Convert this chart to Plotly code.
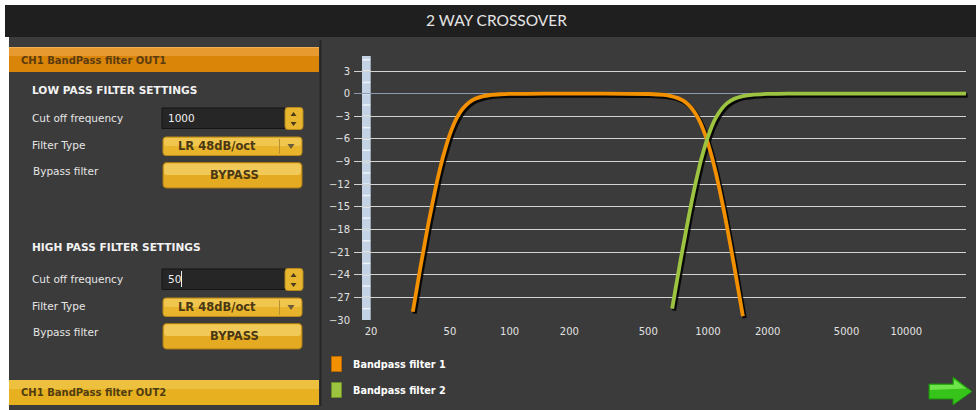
import math
import plotly.graph_objects as go

W, H = 976, 410
FONT = "DejaVu Sans"

# ---------------- data ----------------
freq_tick_values = [20, 50, 100, 200, 500, 1000, 2000, 5000, 10000, 20000]
freq_tick_labels = ["20", "50", "100", "200", "500", "1000", "2000", "5000", "10000", "20000"]
db_tick_values = [3, 0, -3, -6, -9, -12, -15, -18, -21, -24, -27, -30]

bp1_freq = [32.5, 34, 35.5, 37, 38.5, 40, 41.5, 43, 44.5, 46, 48, 50, 52.5, 55, 58, 62, 67, 73, 80, 90,
            100, 150, 300, 500, 600, 650, 700, 750, 800, 850, 900, 950, 1000, 1050, 1100, 1150, 1200,
            1250, 1300, 1350, 1400, 1450, 1500]
bp1_db = [-28.9, -25.9, -23.0, -20.4, -17.9, -15.7, -13.6, -11.7, -10.0, -8.5, -6.8, -5.35, -3.95,
          -2.9, -2.0, -1.23, -0.68, -0.35, -0.17, -0.07, -0.03, 0, 0, -0.04, -0.16, -0.31, -0.55,
          -0.93, -1.51, -2.33, -3.44, -4.86, -6.56, -8.52, -10.68, -12.97, -15.35, -17.76, -20.18,
          -22.58, -24.94, -27.26, -29.5]

bp2_freq = [660, 680, 700, 725, 750, 775, 800, 830, 860, 890, 920, 950, 1000, 1050, 1100, 1175, 1250,
            1350, 1500, 1700, 2000, 2500, 20000]
bp2_db = [-28.5, -26.5, -24.6, -22.3, -20.2, -18.2, -16.3, -14.15, -12.2, -10.5, -8.9, -7.6, -5.7,
          -4.2, -3.1, -1.97, -1.25, -0.7, -0.31, -0.11, -0.03, 0, 0]

series_names = ["Bandpass filter 1", "Bandpass filter 2"]
series_colors = ["#f29000", "#9dc441"]
series_edges = ["#b86a00", "#6f8f28"]

# ---------------- geometry (pixels) ----------------
PL, PR, PT, PB = 354, 966, 56, 320
X20 = 371
dec_px = (PR - X20) / 3.0
x_range = [math.log10(20) - (X20 - PL) / dec_px, math.log10(20000)]
y_range = [-30, 5]


def fx(x):
    return x / W


def fy(y):
    return 1 - y / H


def pt(x, y):
    return f"{fx(x):.5f},{fy(y):.5f}"


shapes = []
annotations = []


def rect(x0, y0, x1, y1, fill, line=None, lw=0, layer="above"):
    shapes.append(dict(type="rect", xref="paper", yref="paper", x0=fx(x0), x1=fx(x1),
                       y0=fy(y1), y1=fy(y0), fillcolor=fill, layer=layer,
                       line=dict(width=lw, color=line or fill)))


def rrect(x0, y0, x1, y1, r, fill, line=None, lw=0):
    p = (f"M {pt(x0 + r, y0)} L {pt(x1 - r, y0)} Q {pt(x1, y0)} {pt(x1, y0 + r)} "
         f"L {pt(x1, y1 - r)} Q {pt(x1, y1)} {pt(x1 - r, y1)} L {pt(x0 + r, y1)} "
         f"Q {pt(x0, y1)} {pt(x0, y1 - r)} L {pt(x0, y0 + r)} Q {pt(x0, y0)} {pt(x0 + r, y0)} Z")
    shapes.append(dict(type="path", xref="paper", yref="paper", path=p, fillcolor=fill,
                       line=dict(width=lw, color=line or fill)))


def poly(points, fill, line=None, lw=0):
    p = "M " + " L ".join(pt(x, y) for x, y in points) + " Z"
    shapes.append(dict(type="path", xref="paper", yref="paper", path=p, fillcolor=fill,
                       line=dict(width=lw, color=line or fill)))


def hline(x0, x1, y, color, w=1):
    shapes.append(dict(type="line", xref="paper", yref="paper", x0=fx(x0), x1=fx(x1),
                       y0=fy(y), y1=fy(y), line=dict(color=color, width=w)))


def vline(x, y0, y1, color, w=1):
    shapes.append(dict(type="line", xref="paper", yref="paper", x0=fx(x), x1=fx(x),
                       y0=fy(y0), y1=fy(y1), line=dict(color=color, width=w)))


def text(x, y, s, size, color, bold=False, anchor="left", family=FONT):
    annotations.append(dict(xref="paper", yref="paper", x=fx(x), y=fy(y), text=(f"<b>{s}</b>" if bold else s),
                            showarrow=False, xanchor=anchor, yanchor="middle",
                            font=dict(family=family, size=size, color=color), borderpad=0))


# ---------------- page chrome ----------------
rect(0, 0, W, 5, "#ffffff")
rect(0, 0, 5, H, "#ffffff")
rect(5, 37, 9, H, "#ffffff")
rect(5, 5, W, 37, "#1f1f1f")
text(496, 20, "2 WAY CROSSOVER", 15.5, "#e4e4e4", anchor="center", family="Lato")
vline(320.5, 40, 406, "#262626", 2)

# header 1 (orange)
rect(9, 47, 319, 72, "#da8408")
rect(9, 47, 319, 56, "#e69a30")
hline(9, 319, 47.5, "#f0b050", 1)
text(20, 60, "CH1 BandPass filter OUT1", 10, "#5a3c10", bold=True)

# header 2 (yellow)
rect(9, 380, 319, 405, "#e6b020")
rect(9, 380, 319, 389, "#edc040")
text(20, 392.5, "CH1 BandPass filter OUT2", 10, "#4e3c12", bold=True)


def settings_block(y_title, title, y_cut, value, y_type, y_byp):
    text(31, y_title, title, 10.6, "#f2f2f2", bold=True)
    text(31, y_cut, "Cut off frequency", 10.5, "#e6e6e6")
    # input box
    rect(162, y_cut - 10, 285, y_cut + 10.5, "#262626", "#151515", 1)
    text(167, y_cut, value, 10.5, "#eeeeee")
    # spinner
    rrect(285, y_cut - 10.5, 303, y_cut + 11.5, 3, "#e8b52e", "#b88a1c", 1)
    poly([(290.5, y_cut - 2), (296.5, y_cut - 2), (293.5, y_cut - 6)], "#4a3a1a")
    poly([(290.5, y_cut + 4), (296.5, y_cut + 4), (293.5, y_cut + 8)], "#4a3a1a")
    # filter type dropdown
    text(31, y_type, "Filter Type", 10.5, "#e6e6e6")
    rrect(163, y_type - 8, 302, y_type + 10.5, 3, "#e8b42c", "#b88a1c", 1)
    rrect(164, y_type - 7, 301, y_type + 1, 2, "#f0c64e")
    vline(279.5, y_type - 6, y_type + 9, "#b8902c", 1)
    poly([(287.5, y_type - 1), (294.5, y_type - 1), (291, y_type + 4)], "#6a5a3a")
    text(217, y_type + 1, "LR 48dB/oct", 11.5, "#4a3814", bold=True, anchor="center")
    # bypass button
    text(32, y_byp, "Bypass filter", 10.5, "#e6e6e6")
    rrect(163, y_byp - 8.5, 302, y_byp + 17, 4, "#e3aa22", "#a87a14", 1)
    rrect(164, y_byp - 7.5, 301, y_byp + 4, 3, "#f1c958")
    text(234, y_byp + 4, "BYPASS", 11.5, "#4a3814", bold=True, anchor="center")


settings_block(90.5, "LOW PASS FILTER SETTINGS", 118, "1000", 145, 171)
settings_block(246.5, "HIGH PASS FILTER SETTINGS", 279, "50", 306, 332)
vline(181.5, 271, 287, "#eeeeee", 1)  # text cursor after "50"

# ---------------- legend ----------------
legend_y = [364, 390]
for name, col, edge, ly in zip(series_names, series_colors, series_edges, legend_y):
    rect(331.5, ly - 7.5, 341.5, ly + 7.5, col, edge, 1)
    text(352, ly, name, 9.7, "#ffffff", bold=True)

# ---------------- arrow ----------------
poly([(929, 384), (953, 384), (953, 377), (972, 391.5), (953, 405), (953, 399), (929, 399)],
     "#36c41a", "#1f8e0e", 1)
poly([(930, 385), (954, 385), (954, 379.5), (966, 388.5), (930, 390)], "#6ee34a")

# ---------------- y strip ----------------
strip_marks = [-28.5 + 1.5 * i for i in range(23)]
shapes.append(dict(type="rect", xref="paper", yref="y", x0=fx(362), x1=fx(370.7), y0=-30, y1=5,
                   fillcolor="#c3d3e5", line=dict(width=0), layer="below"))
for m in strip_marks:
    shapes.append(dict(type="line", xref="paper", yref="y", x0=fx(362.5), x1=fx(370.2), y0=m, y1=m,
                       line=dict(color="#eef3f8", width=1.5), layer="below"))

# ---------------- traces ----------------
fig = go.Figure()
series = [(bp1_freq, bp1_db), (bp2_freq, bp2_db)]
for (fr, db), col in zip(series, series_colors):
    fig.add_trace(go.Scatter(x=fr, y=db, xaxis="x2", yaxis="y2", mode="lines",
                             line=dict(color="rgba(0,0,0,0.85)", width=4.2, shape="spline", smoothing=0.4),
                             hoverinfo="skip", showlegend=False))
for (fr, db), col, name in zip(series, series_colors, series_names):
    fig.add_trace(go.Scatter(x=fr, y=db, xaxis="x3", yaxis="y3", mode="lines", name=name,
                             line=dict(color=col, width=3.8, shape="spline", smoothing=0.4),
                             showlegend=False))

xd = [fx(PL), fx(PR)]
yd = [fy(PB), fy(PT)]
sx, sy = 1.8 / W, 2.0 / H

fig.update_layout(
    width=W, height=H,
    margin=dict(l=0, r=0, t=0, b=0, pad=0),
    paper_bgcolor="#3b3b3b", plot_bgcolor="rgba(0,0,0,0)",
    showlegend=False, hovermode=False,
    xaxis=dict(domain=xd, type="log", range=x_range, tickvals=freq_tick_values, ticktext=freq_tick_labels,
               showgrid=False, zeroline=False, showline=False, ticks="", anchor="y", automargin=False,
               tickfont=dict(family=FONT, size=10, color="#e2e2e2"), ticklabelstandoff=4),
    yaxis=dict(domain=yd, range=y_range, tickvals=db_tick_values, showgrid=True, gridcolor="#d2d2d2",
               gridwidth=1.2, zeroline=True, zerolinecolor="#8a9bb0", zerolinewidth=1.2, showline=False,
               ticks="", anchor="x", automargin=False, tickfont=dict(family=FONT, size=10, color="#e2e2e2"),
               ticklabelstandoff=3),
    xaxis2=dict(domain=[xd[0] + sx, xd[1] + sx], type="log", range=x_range, visible=False, anchor="y2"),
    yaxis2=dict(domain=[yd[0] - sy, yd[1] - sy], range=y_range, visible=False, anchor="x2"),
    xaxis3=dict(domain=xd, type="log", range=x_range, visible=False, anchor="y3"),
    yaxis3=dict(domain=yd, range=y_range, visible=False, anchor="x3"),
    shapes=shapes,
    annotations=annotations,
)

fig.write_html(
    "out.html", config={"displayModeBar": False},
    post_script=("var h=document.documentElement,b=document.body;"
                 "h.style.margin='0';b.style.margin='0';h.style.padding='0';b.style.padding='0';"
                 "h.style.height='410px';b.style.height='410px';"
                 "h.style.overflow='hidden';b.style.overflow='hidden';"),
)
